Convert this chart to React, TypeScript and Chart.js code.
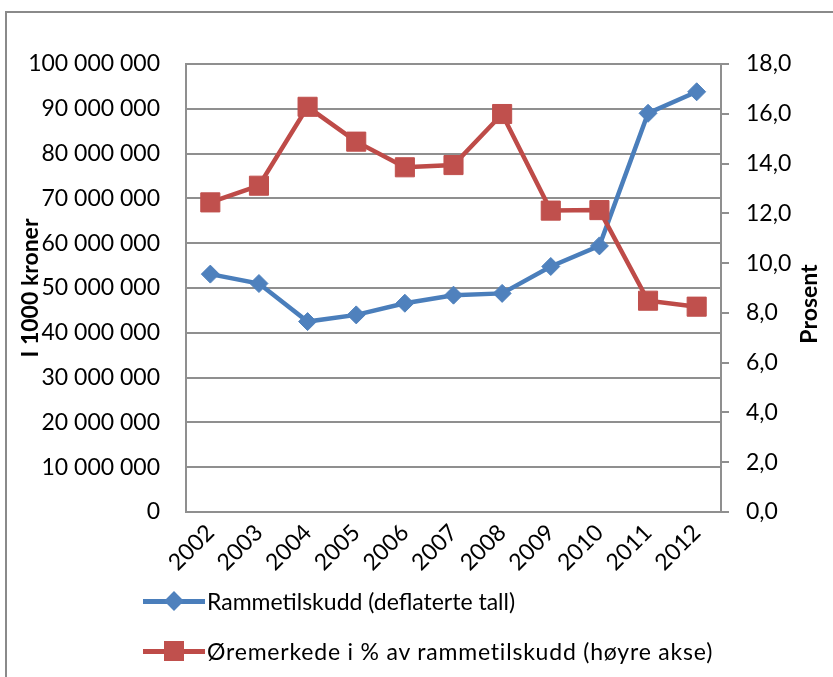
import React, { useEffect, useRef } from 'react';
import { Chart, registerables } from 'chart.js';

Chart.register(...registerables);

const years = ['2002', '2003', '2004', '2005', '2006', '2007', '2008', '2009', '2010', '2011', '2012'];
const rammetilskudd = [53100000, 51000000, 42500000, 44000000, 46600000, 48400000, 48800000, 54800000, 59400000, 89000000, 93800000];
const oremerkedePct = [12.44, 13.11, 16.28, 14.88, 13.85, 13.94, 15.99, 12.11, 12.13, 8.49, 8.25];

const seriesNames = ['Rammetilskudd (deflaterte tall)', 'Øremerkede i % av rammetilskudd (høyre akse)'];
const leftTitle = 'I 1000 kroner';
const rightTitle = 'Prosent';
const leftMin = 0;
const leftMax = 100000000;
const leftStep = 10000000;
const rightMin = 0;
const rightMax = 18;
const rightStep = 2;

const BLUE_LINE = '#4A7EBB';
const BLUE_FILL = '#4F81BD';
const RED_LINE = '#BE4B48';
const RED_FILL = '#C0504D';
const GRID = '#8f8f8f';
const FONT = 'Lato, "Open Sans", sans-serif';

const fmtLeft = (v: number) => String(Math.round(v)).replace(/\B(?=(\d{3})+(?!\d))/g, ' ');
const fmtRight = (v: number) => v.toFixed(1).replace('.', ',');

const titlePlugin = {
  id: 'axisTitlesCustom',
  afterDraw(chart: any) {
    const { ctx, chartArea } = chart;
    const mid = (chartArea.top + chartArea.bottom) / 2;
    ctx.save();
    ctx.font = `bold 23px ${FONT}`;
    ctx.fillStyle = '#000';
    ctx.textAlign = 'center';
    ctx.textBaseline = 'middle';
    ctx.save();
    ctx.translate(31, mid);
    ctx.rotate(-Math.PI / 2);
    ctx.fillText(leftTitle, 0, 0);
    ctx.restore();
    ctx.save();
    ctx.translate(810, mid + 16);
    ctx.rotate(-Math.PI / 2);
    ctx.fillText(rightTitle, 0, 0);
    ctx.restore();
    ctx.restore();
  },
};

function LegendRow({ color, fill, shape, text, top, spacing }: any) {
  return (
    <div style={{ position: 'absolute', left: 143, top, height: 30, width: 700 }}>
      <div style={{ position: 'absolute', left: 0, top: 13, width: 62, height: 4.5, background: color }} />
      {shape === 'diamond' ? (
        <div style={{ position: 'absolute', left: 31 - 7, top: 15 - 7, width: 14, height: 14, background: fill, transform: 'rotate(45deg)' }} />
      ) : (
        <div style={{ position: 'absolute', left: 31 - 10, top: 15 - 10, width: 20, height: 20, background: fill }} />
      )}
      <div style={{ position: 'absolute', left: 64, top: 0, height: 30, lineHeight: '30px', fontFamily: FONT, fontSize: 23, color: '#000', whiteSpace: 'nowrap', letterSpacing: spacing }}>{text}</div>
    </div>
  );
}

export default function App() {
  const canvasRef = useRef<HTMLCanvasElement | null>(null);

  useEffect(() => {
    if (!canvasRef.current) return;
    const chart = new Chart(canvasRef.current, {
      type: 'line',
      data: {
        labels: years,
        datasets: [
          {
            label: seriesNames[0],
            data: rammetilskudd,
            yAxisID: 'yLeft',
            borderColor: BLUE_LINE,
            backgroundColor: BLUE_FILL,
            borderWidth: 4.5,
            pointStyle: 'rectRot',
            pointRadius: 9,
            pointBorderWidth: 1,
            pointBorderColor: BLUE_FILL,
            pointBackgroundColor: BLUE_FILL,
            tension: 0,
            order: 2,
          },
          {
            label: seriesNames[1],
            data: oremerkedePct,
            yAxisID: 'yRight',
            borderColor: RED_LINE,
            backgroundColor: RED_FILL,
            borderWidth: 4.5,
            pointStyle: 'rect',
            pointRadius: 13.5,
            pointBorderWidth: 1,
            pointBorderColor: RED_FILL,
            pointBackgroundColor: RED_FILL,
            tension: 0,
            order: 1,
          },
        ],
      },
      options: {
        animation: false,
        responsive: false,
        maintainAspectRatio: false,
        layout: { padding: { top: 64, left: 0, right: 0, bottom: 0 } },
        plugins: {
          legend: { display: false },
          tooltip: { enabled: false },
          title: { display: false },
        },
        scales: {
          x: {
            type: 'category',
            offset: true,
            grid: { display: false, drawTicks: false },
            border: { display: true, color: GRID, width: 2 },
            ticks: {
              maxRotation: 45,
              minRotation: 45,
              autoSkip: false,
              padding: 7,
              color: '#000',
              font: { family: FONT, size: 23 },
            },
            afterFit: (s: any) => { s.height = 165; },
          },
          yLeft: {
            type: 'linear',
            position: 'left',
            min: leftMin,
            max: leftMax,
            grid: { display: true, color: GRID, lineWidth: 2, drawTicks: false },
            border: { display: true, color: GRID, width: 2 },
            ticks: {
              stepSize: leftStep,
              padding: 26,
              color: '#000',
              font: { family: FONT, size: 23 },
              callback: (v: any) => fmtLeft(Number(v)),
            },
            afterFit: (s: any) => { s.width = 186; },
          },
          yRight: {
            type: 'linear',
            position: 'right',
            min: rightMin,
            max: rightMax,
            grid: { display: true, drawOnChartArea: false, color: GRID, lineWidth: 2, drawTicks: true, tickLength: 8 },
            border: { display: true, color: GRID, width: 2 },
            ticks: {
              stepSize: rightStep,
              padding: 17,
              color: '#000',
              font: { family: FONT, size: 23 },
              callback: (v: any) => fmtRight(Number(v)),
            },
            afterFit: (s: any) => { s.width = 112; },
          },
        },
      },
      plugins: [titlePlugin],
    });
    return () => chart.destroy();
  }, []);

  return (
    <div style={{ position: 'absolute', left: 0, top: 0, width: 833, height: 677, overflow: 'hidden', background: '#fff' }}>
      <div style={{ position: 'absolute', left: 5, top: 11, width: 900, height: 800, border: '2px solid #8a8a8a' }} />
      <canvas ref={canvasRef} width={833} height={677} style={{ position: 'absolute', left: 0, top: 0, width: 833, height: 677 }} />
      <LegendRow color={BLUE_LINE} fill={BLUE_FILL} shape="diamond" text={seriesNames[0]} top={586} spacing={0} />
      <LegendRow color={RED_LINE} fill={RED_FILL} shape="square" text={seriesNames[1]} top={636} spacing={0.8} />
    </div>
  );
}
